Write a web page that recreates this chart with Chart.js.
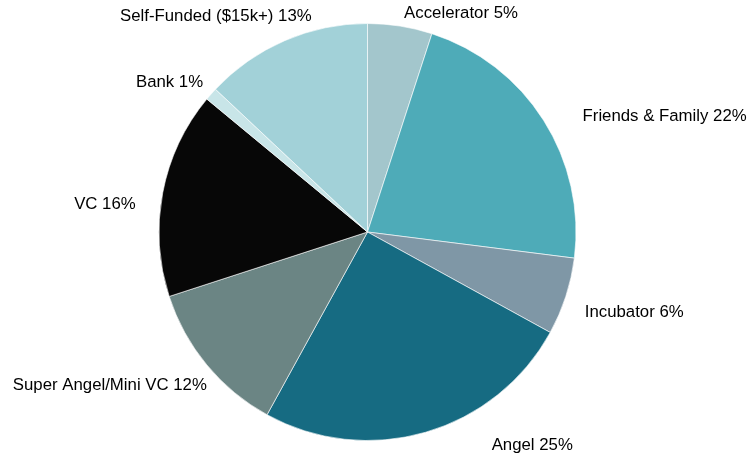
<!DOCTYPE html>
<html>
<head>
<meta charset="utf-8">
<script src="https://cdn.jsdelivr.net/npm/chart.js@4"></script>
<style>
  body { margin: 0; background: #fff; }
  #wrap { width: 748px; height: 455px; }
</style>
</head>
<body>
<div id="wrap"><canvas id="pieChart"></canvas></div>
<script>
const categories = ['Accelerator', 'Friends & Family', 'Incubator', 'Angel',
  'Super Angel/Mini VC', 'VC', 'Bank', 'Self-Funded ($15k+)'];
const shares = [5, 22, 6, 25, 12, 16, 1, 13];
const colors = ['#a3c6cc', '#4eabb8', '#7f97a6', '#166b82',
  '#6b8584', '#070707', '#c8e5e8', '#a2d1d8'];
// small nudges so labels sit where the original put them
const labelNudge = [[4, -13], [39, -4], [19, 16], [66, 13], [0, 20], [-27, 11], [-8, -12], [27, -24]];

const outsideLabels = {
  id: 'outsideLabels',
  afterDatasetsDraw(chart) {
    const ctx = chart.ctx;
    const meta = chart.getDatasetMeta(0);
    ctx.save();
    ctx.font = '16.8px "Liberation Sans", Arial, sans-serif';
    ctx.fillStyle = '#000';
    ctx.textBaseline = 'middle';
    meta.data.forEach((arc, i) => {
      const p = arc.getProps(['x', 'y', 'startAngle', 'endAngle', 'outerRadius'], true);
      const mid = (p.startAngle + p.endAngle) / 2;
      const ex = p.x + Math.cos(mid) * p.outerRadius;
      const ey = p.y + Math.sin(mid) * p.outerRadius;
      ctx.textAlign = Math.cos(mid) >= 0 ? 'left' : 'right';
      ctx.fillText(categories[i] + ' ' + shares[i] + '%', ex + labelNudge[i][0], ey + labelNudge[i][1]);
    });
    ctx.restore();
  }
};

const ctx = document.getElementById('pieChart').getContext('2d');
new Chart(ctx, {
  type: 'pie',
  data: {
    labels: categories,
    datasets: [{
      data: shares,
      backgroundColor: colors,
      borderColor: 'rgba(255,255,255,0.6)',
      borderWidth: 1
    }]
  },
  options: {
    responsive: true,
    maintainAspectRatio: false,
    animation: false,
    layout: { padding: { left: 158, right: 171, top: 23, bottom: 14 } },
    plugins: {
      legend: { display: false },
      tooltip: { enabled: false }
    }
  },
  plugins: [outsideLabels]
});
</script>
</body>
</html>
